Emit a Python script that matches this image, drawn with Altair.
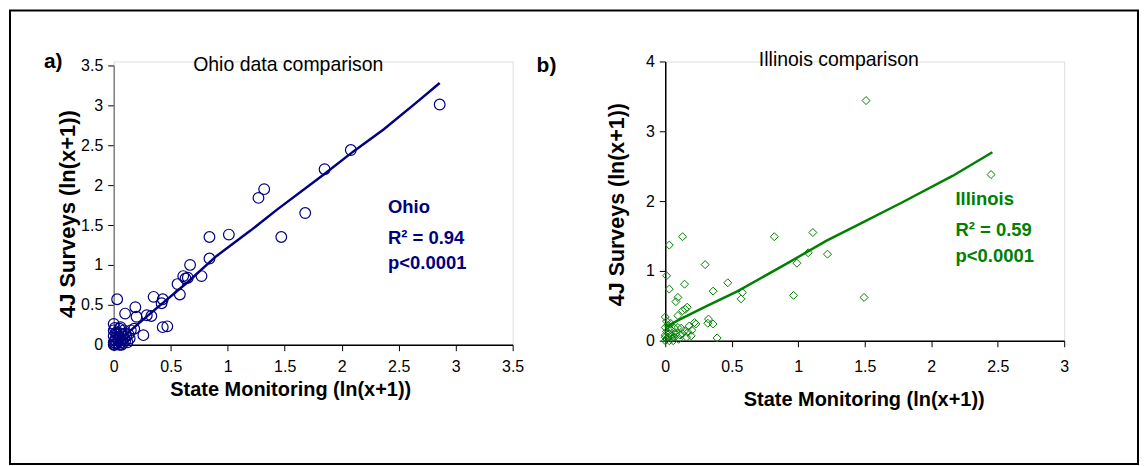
import altair as alt
import pandas as pd

NAVY = "#000080"
GREEN = "#008000"
FONT = "Liberation Sans"

# ---------------- Ohio (panel a) ----------------
ohio_x = [0.03, 0.10, 0.19, 0.20, 0.29, 0.33, 0.35, 0.42, 0.43, 0.43, 0.47, 0.26,
          0.56, 0.58, 0.61, 0.63, 0.65, 0.67, 0.77, 0.84, 0.84, 1.01, 1.27, 1.32,
          1.47, 1.68, 1.85, 2.08, 2.86,
          0.00, 0.01, 0.02, 0.00, 0.03, 0.05, 0.04, 0.01, 0.06, 0.02, 0.07, 0.00,
          0.05, 0.08, 0.09, 0.03, 0.10, 0.00, 0.05, 0.09, 0.13, 0.15, 0.18, 0.00,
          0.11, 0.12, 0.02, 0.06, 0.07, 0.04, 0.10, 0.14, 0.01, 0.08, 0.06]
ohio_y = [0.57, 0.39, 0.47, 0.35, 0.37, 0.36, 0.60, 0.52, 0.57, 0.22, 0.23, 0.12,
          0.76, 0.63, 0.86, 0.83, 0.84, 1.00, 0.86, 1.35, 1.08, 1.38, 1.84, 1.95,
          1.35, 1.65, 2.20, 2.44, 3.01,
          0.00, 0.00, 0.01, 0.03, 0.02, 0.00, 0.05, 0.06, 0.03, 0.09, 0.06, 0.11,
          0.10, 0.02, 0.08, 0.13, 0.05, 0.18, 0.20, 0.18, 0.13, 0.18, 0.20, 0.26,
          0.11, 0.03, 0.15, 0.14, 0.00, 0.08, 0.14, 0.08, 0.21, 0.12, 0.22]
ohio_fit_x = [0.00, 0.10, 0.32, 0.645, 0.90, 1.20, 1.43, 1.84, 2.10, 2.37, 2.66, 2.86]
ohio_fit_y = [0.00, 0.12, 0.39, 0.78, 1.11, 1.43, 1.69, 2.13, 2.42, 2.70, 3.04, 3.28]
ohio_ticks_x = [0, 0.5, 1, 1.5, 2, 2.5, 3, 3.5]
ohio_ticks_y = [0, 0.5, 1, 1.5, 2, 2.5, 3, 3.5]
ohio_note = ["Ohio", "R\u00b2 = 0.94", "p<0.0001"]

# ---------------- Illinois (panel b) ----------------
ill_x = [0.03, 0.13, 0.01, 0.03, 0.145, 0.095, 0.08, 0.15, 0.165, 0.30, 0.36, 0.47,
         0.57, 0.58, 0.325, 0.32, 0.36, 0.39, 0.23, 0.195, 0.00, 0.82, 0.965, 0.99,
         1.075, 1.11, 1.22, 1.51, 2.45, 1.495,
         0.095, 0.13, 0.22, 0.18, 0.145, 0.17, 0.13, 0.095, 0.07,
         0.00, 0.01, 0.02, 0.00, 0.03, 0.05, 0.01, 0.04, 0.00, 0.06, 0.02, 0.05,
         0.07, 0.00, 0.03, 0.06, 0.01, 0.04, 0.10, 0.12, 0.08, 0.20, 0.16, 0.11]
ill_y = [1.37, 1.49, 0.93, 0.74, 0.81, 0.62, 0.56, 0.45, 0.48, 1.09, 0.71, 0.83,
         0.60, 0.69, 0.31, 0.25, 0.24, 0.04, 0.24, 0.07, 0.34, 1.49, 0.65, 1.11,
         1.26, 1.55, 1.24, 3.44, 2.38, 0.62,
         0.36, 0.43, 0.26, 0.21, 0.14, 0.12, 0.10, 0.19, 0.05,
         0.00, 0.02, 0.05, 0.08, 0.10, 0.03, 0.13, 0.16, 0.19, 0.12, 0.22, 0.07,
         0.18, 0.05, 0.00, 0.00, 0.28, 0.25, 0.02, 0.18, 0.10, 0.15, 0.05, 0.08]
ill_fit_x = [0.00, 0.095, 0.295, 0.545, 0.91, 1.21, 1.46, 1.78, 2.16, 2.46]
ill_fit_y = [0.19, 0.29, 0.48, 0.71, 1.10, 1.43, 1.67, 1.98, 2.36, 2.70]
ill_ticks_x = [0, 0.5, 1, 1.5, 2, 2.5, 3]
ill_ticks_y = [0, 0.5, 1, 1.5, 2, 2.5, 3, 3.5, 4]
ill_note = ["Illinois", "R\u00b2 = 0.59", "p<0.0001"]

X_TITLE = "State Monitoring (ln(x+1))"
Y_TITLE = "4J Surveys (ln(x+1))"


def x_axis(values, title_x, title_y, label_pad):
    return alt.Axis(values=values, format="~g", title=X_TITLE, grid=False,
                    tickSize=6, tickColor="black", domainColor="black", domainWidth=1.5,
                    labelPadding=label_pad, labelFontSize=16, labelFont=FONT, labelColor="black",
                    labelFlush=False, labelOverlap=False,
                    titleFont=FONT, titleFontSize=20, titleFontWeight="bold", titleColor="black",
                    titleX=title_x, titleY=title_y, titleAlign="center",
                    titleBaseline="alphabetic")


def y_axis(values, title_x, title_y, title_size, domain_color):
    return alt.Axis(values=values, format="~g", title=Y_TITLE, grid=False,
                    tickSize=6, tickColor="black", domainColor=domain_color, domainWidth=1.5,
                    labelPadding=5, labelFontSize=16, labelFont=FONT, labelColor="black",
                    labelFlush=False, labelOverlap=False,
                    titleFont=FONT, titleFontSize=title_size, titleFontWeight="bold",
                    titleColor="black", titleAngle=270,
                    titleX=title_x, titleY=title_y, titleAlign="center",
                    titleBaseline="alphabetic")


def text_layer(txt, x, y, size, color, weight="normal", align="left"):
    return alt.Chart(alt.Data(values=[{"t": txt}])).mark_text(
        align=align, baseline="alphabetic", font=FONT, fontSize=size,
        fontWeight=weight, color=color
    ).encode(x=alt.value(x), y=alt.value(y), text="t:N")


# ---------------- panel a ----------------
ohio_df = pd.DataFrame({"x": ohio_x, "y": ohio_y})
ohio_fit = pd.DataFrame({"x": ohio_fit_x, "y": ohio_fit_y})

xs_a = alt.Scale(domain=[0, 3.5], nice=False, zero=False)
ys_a = alt.Scale(domain=[0, 3.5], range=[284, 4], nice=False, zero=False)

frame = alt.Chart(alt.Data(values=[{}])).mark_rect(
    fillOpacity=0, stroke="black", strokeWidth=2
).encode(x=alt.value(-104), x2=alt.value(1027), y=alt.value(-51), y2=alt.value(403.5))

pts_a = alt.Chart(ohio_df).mark_point(
    shape="circle", size=115, filled=False, color=NAVY, strokeWidth=1.2, opacity=1
).encode(
    x=alt.X("x:Q", scale=xs_a, axis=x_axis(ohio_ticks_x, 177, 51, 8)),
    y=alt.Y("y:Q", scale=ys_a, axis=y_axis(ohio_ticks_y, -39.5, 152.5, 22, "#808080")),
)
line_a = alt.Chart(ohio_fit).mark_line(color=NAVY, strokeWidth=2.5).encode(
    x=alt.X("x:Q", scale=xs_a), y=alt.Y("y:Q", scale=ys_a)
)

layers_a = [frame, pts_a, line_a,
            text_layer("a)", -70, 7, 21, "black", "bold"),
            text_layer("Ohio data comparison", 175, 10, 19.5, "black", align="center")]
for txt, yy in zip(ohio_note, [152, 183.5, 208.5]):
    layers_a.append(text_layer(txt, 275, yy, 18.5, NAVY, "bold"))

left = alt.layer(*layers_a).properties(width=400, height=284)

# ---------------- panel b ----------------
ill_df = pd.DataFrame({"x": ill_x, "y": ill_y})
ill_fit = pd.DataFrame({"x": ill_fit_x, "y": ill_fit_y})

xs_b = alt.Scale(domain=[0, 3], nice=False, zero=False)
ys_b = alt.Scale(domain=[0, 4], nice=False, zero=False)

pts_b = alt.Chart(ill_df).mark_point(
    shape="diamond", size=64, filled=False, color=GREEN, strokeWidth=1, opacity=1
).encode(
    x=alt.X("x:Q", scale=xs_b, axis=x_axis(ill_ticks_x, 199, 65, 12)),
    y=alt.Y("y:Q", scale=ys_b, axis=y_axis(ill_ticks_y, -42, 143, 21.5, "black")),
)
line_b = alt.Chart(ill_fit).mark_line(color=GREEN, strokeWidth=2.5).encode(
    x=alt.X("x:Q", scale=xs_b), y=alt.Y("y:Q", scale=ys_b)
)

layers_b = [pts_b, line_b,
            text_layer("b)", -129, 11, 21, "black", "bold"),
            text_layer("Illinois comparison", 174, 5, 19.5, "black", align="center")]
for txt, yy in zip(ill_note, [143.5, 175, 201.5]):
    layers_b.append(text_layer(txt, 291, yy, 18.5, GREEN, "bold"))

right = alt.layer(*layers_b).properties(width=400, height=280)

chart = alt.hconcat(left, right, spacing=153, bounds="flush").properties(
    padding=0, background="white"
).configure_view(stroke=None).configure(font=FONT)

chart.save("out.html", embed_options={"renderer": "svg", "actions": False})
